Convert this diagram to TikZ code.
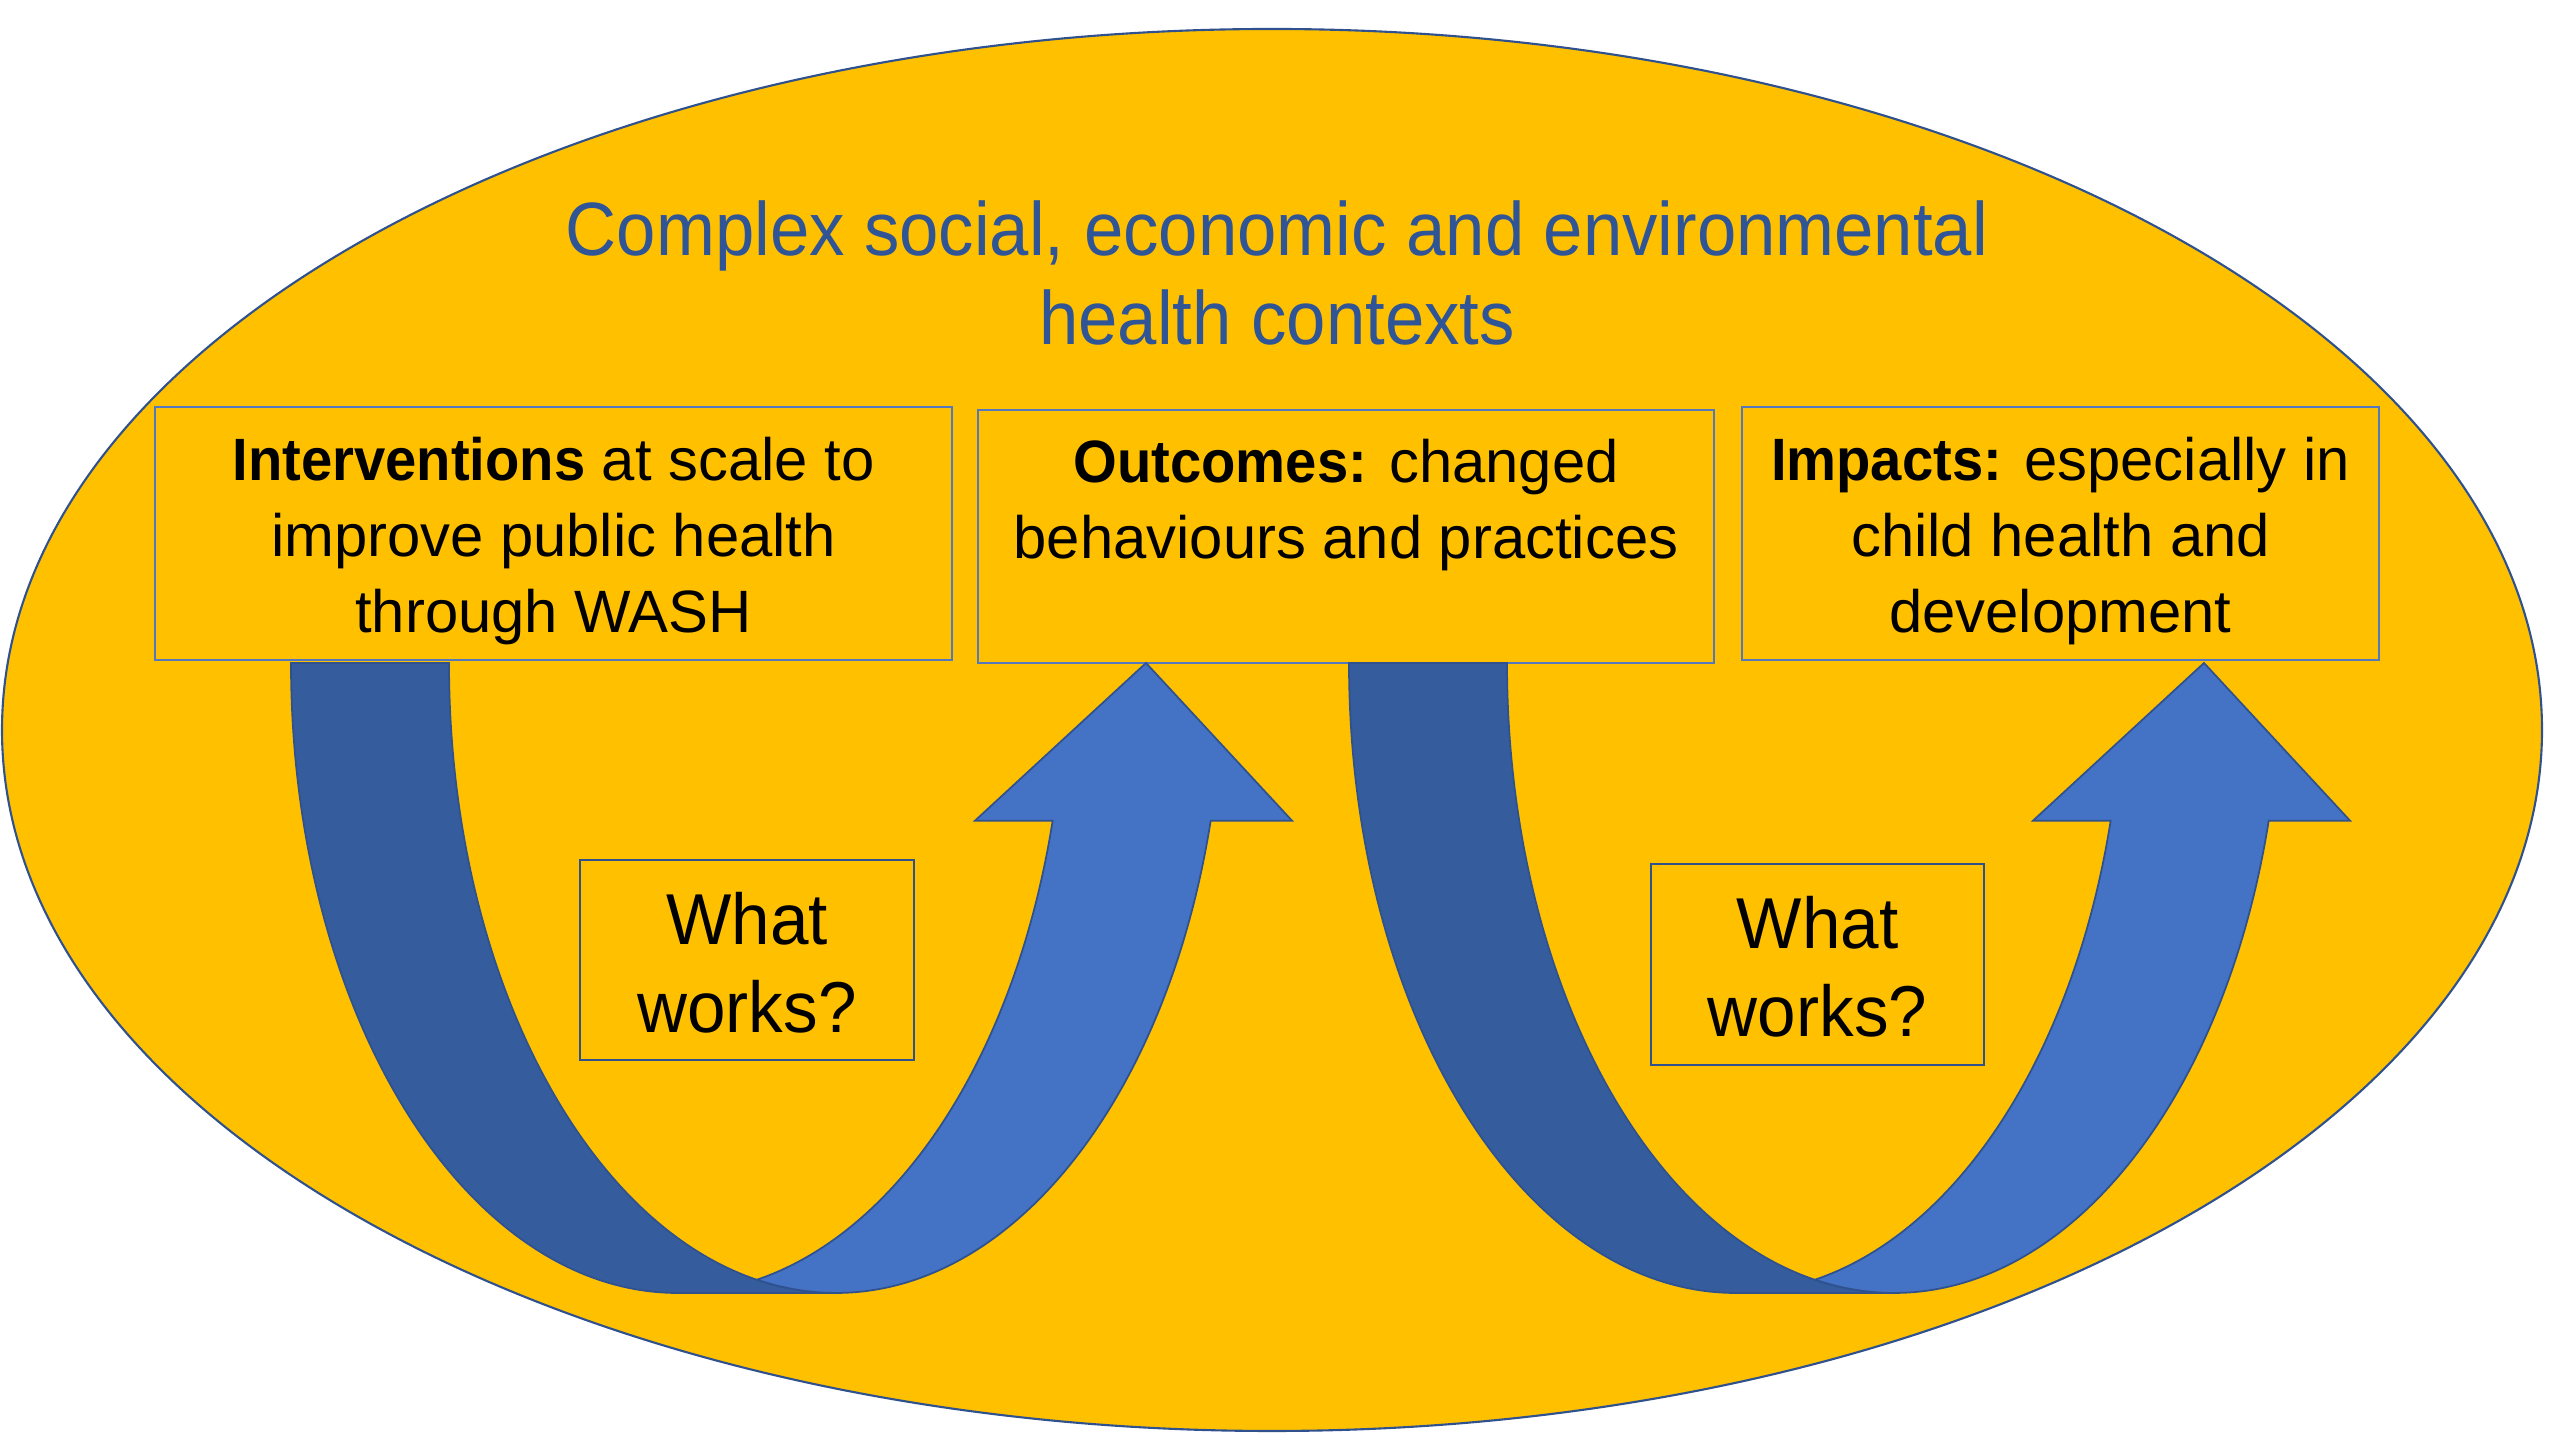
\documentclass[tikz,border=0pt]{standalone}
\usepackage{fontspec}
\setmainfont{Liberation Sans}[FakeStretch=1.0, BoldFeatures={FakeStretch=0.94}]
\newfontfamily\titlefont{Liberation Sans}[FakeStretch=0.935]
\newfontfamily\wwfont{Liberation Sans}[FakeStretch=0.96]
\usetikzlibrary{shapes.geometric}
\definecolor{gold}{RGB}{255,192,0}
\definecolor{edgeblue}{RGB}{47,82,143}
\definecolor{boxblue}{RGB}{84,120,190}
\definecolor{titleblue}{RGB}{47,85,151}
\definecolor{darkarrow}{RGB}{53,92,156}
\definecolor{lightarrow}{RGB}{68,114,196}
\tikzset{
  bigbox/.style={draw=boxblue, line width=0.7pt, inner sep=0pt},
  wwbox/.style={draw=edgeblue, line width=0.7pt, inner sep=0pt},
  boxtext/.style={align=center, inner sep=0pt, font=\fontsize{17}{21.6}\selectfont},
  wwtext/.style={align=center, inner sep=0pt, font=\wwfont\fontsize{20.5}{25}\selectfont},
  titletext/.style={align=center, inner sep=0pt, text=titleblue, font=\titlefont\fontsize{21.5}{25.3}\selectfont},
  darkband/.style={fill=darkarrow, draw=edgeblue, line width=0.5pt},
  lightband/.style={fill=lightarrow, draw=edgeblue, line width=0.5pt}
}
\newcommand{\curvedup}{%
  \path[darkband] (291,777) arc[start angle=180,end angle=270,x radius=387,y radius=630]
    -- (836,147) arc[start angle=270,end angle=180,x radius=387,y radius=630] -- cycle;
  \path[lightband] (757,160.3) arc[start angle=-78.22,end angle=-14.5,x radius=387,y radius=630]
    -- (975,619.3) -- (1146,777) -- (1292,619.3) -- (1210.7,619.3)
    arc[start angle=-14.5,end angle=-90,x radius=387,y radius=630]
    arc[start angle=270,end angle=258.22,x radius=387,y radius=630] -- cycle;
}
\begin{document}
\begin{tikzpicture}[x=0.01cm,y=0.01cm]
\useasboundingbox (0,0) rectangle (2560,1440);
\draw[fill=gold, draw=edgeblue, line width=0.6pt] (1272,710) ellipse[x radius=1270, y radius=701];
\node[titletext] (title) at (1277,1167) {Complex social, economic and environmental\\health contexts};
% boxes
\node[bigbox, minimum width=7.97cm, minimum height=2.53cm] (interv) at (553.5,906.5) {};
\node[bigbox, minimum width=7.36cm, minimum height=2.53cm] (outc) at (1346,903.5) {};
\node[bigbox, minimum width=6.37cm, minimum height=2.53cm] (impact) at (2060.5,906.5) {};
\node[boxtext] (intervtext) at (553.5,899) {\textbf{Interventions} at scale to\\improve public health\\through WASH};
\node[boxtext] (outctext) at (1346,934.5) {\textbf{Outcomes:} changed\\behaviours and practices};
\node[boxtext] (impacttext) at (2060.5,899) {\textbf{Impacts:} especially in\\child health and\\development};
% arrows
\curvedup
\begin{scope}[shift={(1058,0)}]
\curvedup
\end{scope}
% what works boxes
\node[wwbox, minimum width=3.34cm, minimum height=2.00cm] (ww1) at (747,480) {};
\node[wwtext] (ww1text) at (747,477) {What\\works?};
\node[wwbox, minimum width=3.33cm, minimum height=2.01cm] (ww2) at (1817.5,475.5) {};
\node[wwtext] (ww2text) at (1817.5,473) {What\\works?};
\end{tikzpicture}
\end{document}
